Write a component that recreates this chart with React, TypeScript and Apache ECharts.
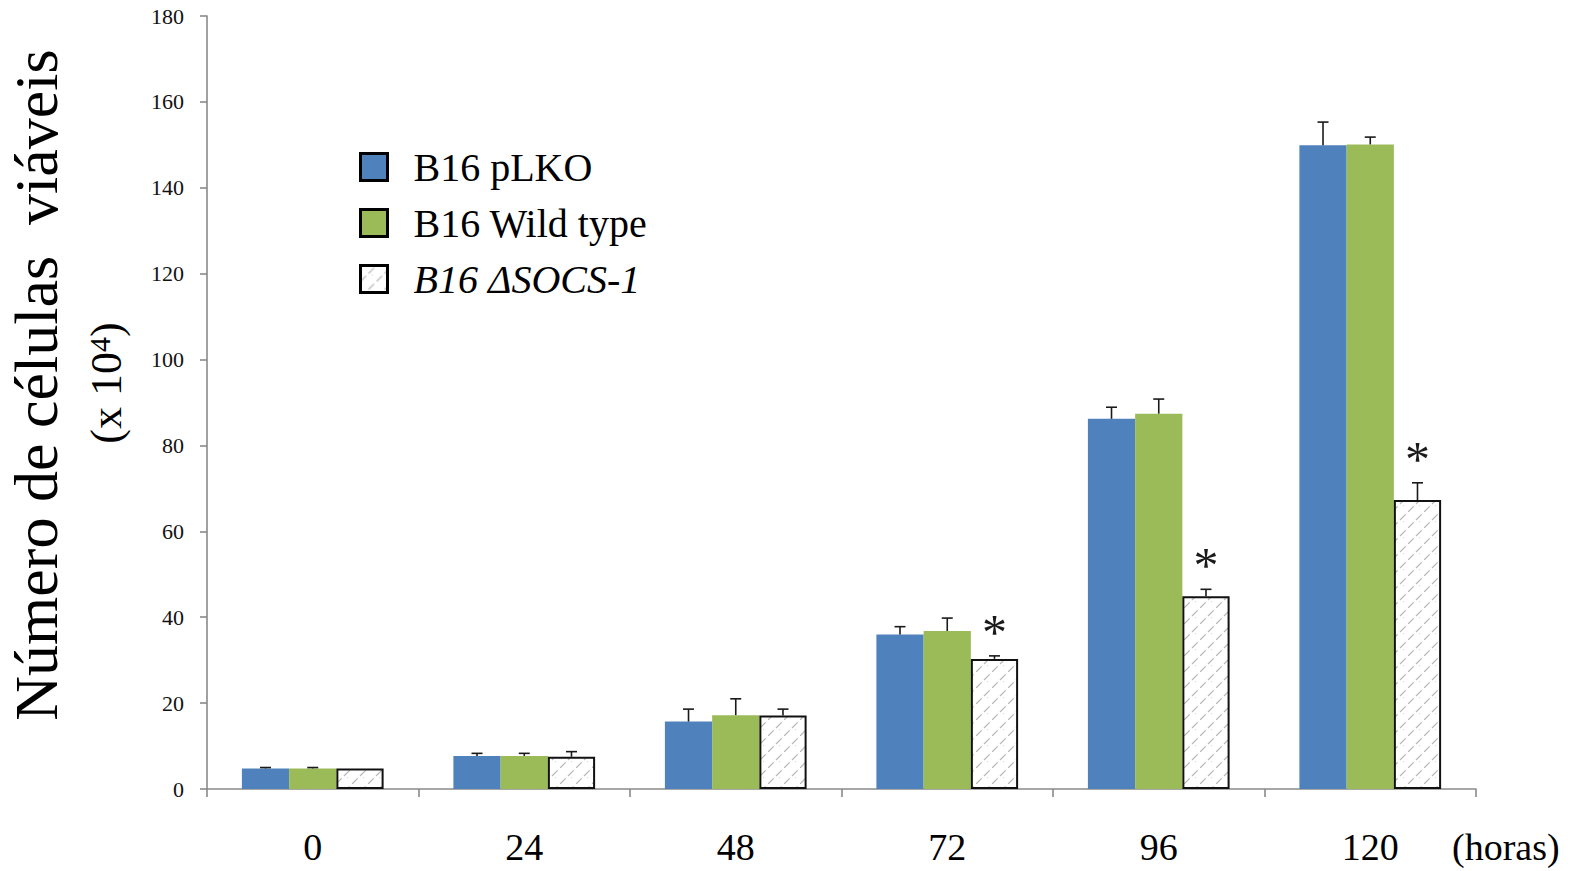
import React, { useEffect, useRef } from 'react';
import * as echarts from 'echarts';

// Time points (hours) on the category axis
const hours = ['0', '24', '48', '72', '96', '120'];

// Series names
const nameLKO = 'B16 pLKO';
const nameWT = 'B16 Wild type';
const nameSOCS = 'B16 \u0394SOCS-1';

// Viable cell counts (x 10^4) and their standard errors
const lkoValues = [4.8, 7.7, 15.7, 36.0, 86.2, 149.9];
const lkoErrors = [0.2, 0.6, 2.9, 1.8, 2.7, 5.4];
const wtValues = [4.8, 7.7, 17.2, 36.8, 87.4, 150.1];
const wtErrors = [0.2, 0.6, 3.8, 3.0, 3.4, 1.7];
const socsValues = [4.8, 7.5, 17.1, 30.3, 44.9, 67.3];
const socsErrors = [0, 1.2, 1.5, 0.7, 1.6, 4.0];
// Significance marks above the ΔSOCS-1 bars
const socsMarks = ['', '', '', '*', '*', '*'];

// Y axis ticks
const yMin = 0;
const yMax = 180;
const yStep = 20;

const SERIF = "'Liberation Serif', 'Times New Roman', serif";
const CATEGORY_GAP = 0.33;

function makeHatch(): HTMLCanvasElement {
  const size = 16;
  const c = document.createElement('canvas');
  c.width = size;
  c.height = size;
  const ctx = c.getContext('2d')!;
  ctx.fillStyle = '#ffffff';
  ctx.fillRect(0, 0, size, size);
  ctx.strokeStyle = '#b8b8b8';
  ctx.lineWidth = 1.3;
  ctx.setLineDash([8, 3.31]);
  ctx.beginPath();
  ctx.moveTo(0, size);
  ctx.lineTo(size, 0);
  ctx.stroke();
  ctx.setLineDash([]);
  ctx.fillStyle = '#d0d0d0';
  ctx.fillRect(11, 9, 1, 1);
  return c;
}

function errorBars(values: number[], errors: number[], slot: number, marks?: string[]) {
  return {
    type: 'custom',
    z: 5,
    silent: true,
    data: values.map((v, i) => [i, v, errors[i]]),
    encode: { x: 0, y: 1 },
    renderItem: (params: any, api: any) => {
      const idx = api.value(0);
      const v = api.value(1);
      const e = api.value(2);
      const band = api.size([1, 0])[0];
      const barW = (band * (1 - CATEGORY_GAP)) / 3;
      const base = api.coord([idx, v]);
      const x = base[0] + (slot - 1) * barW;
      const top = api.coord([idx, v + e])[1];
      const children: any[] = [];
      if (e > 0) {
        children.push({
          type: 'line',
          shape: { x1: x, y1: base[1], x2: x, y2: top },
          style: { stroke: '#1a1a1a', lineWidth: 1.6 },
        });
        children.push({
          type: 'line',
          shape: { x1: x - 5.5, y1: top, x2: x + 5.5, y2: top },
          style: { stroke: '#1a1a1a', lineWidth: 1.6 },
        });
      }
      const mark = marks ? marks[params.dataIndex] : '';
      if (mark) {
        children.push({
          type: 'text',
          style: {
            text: mark,
            x,
            y: top - 24,
            align: 'center',
            verticalAlign: 'middle',
            fontFamily: SERIF,
            fontSize: 50,
            fill: '#1a1a1a',
          },
        });
      }
      return { type: 'group', children };
    },
  };
}

export default function App() {
  const ref = useRef<HTMLDivElement>(null);

  useEffect(() => {
    document.body.style.margin = '0';
    const chart = echarts.init(ref.current!, null, { renderer: 'svg' });
    const hatch = { image: makeHatch(), repeat: 'repeat' };
    const legendText = { fontFamily: SERIF, fontSize: 40, color: '#000', padding: [0, 0, 0, 21] };

    chart.setOption({
      animation: false,
      backgroundColor: '#ffffff',
      grid: { left: 207, right: 106, top: 16, bottom: 82, containLabel: false },
      legend: {
        orient: 'vertical',
        left: 354,
        top: 142,
        icon: 'rect',
        itemWidth: 27,
        itemHeight: 27,
        itemGap: 16,
        itemStyle: { borderColor: '#000', borderWidth: 3 },
        selectedMode: false,
        data: [nameLKO, nameWT, nameSOCS],
        formatter: (name: string) => (name === nameSOCS ? `{it|${name}}` : `{n|${name}}`),
        textStyle: {
          fontFamily: SERIF,
          fontSize: 40,
          color: '#000',
          rich: {
            n: legendText,
            it: { ...legendText, fontStyle: 'italic' },
          },
        },
      },
      xAxis: {
        type: 'category',
        data: hours,
        axisLine: { lineStyle: { color: '#8a8a8a', width: 1.6 } },
        axisTick: { show: true, length: 8, lineStyle: { color: '#8a8a8a', width: 1.6 } },
        axisLabel: { fontFamily: SERIF, fontSize: 38, color: '#000', margin: 39 },
        splitLine: { show: false },
      },
      yAxis: {
        type: 'value',
        min: yMin,
        max: yMax,
        interval: yStep,
        axisLine: { show: true, lineStyle: { color: '#8a8a8a', width: 1.6 } },
        axisTick: { show: true, length: 7, lineStyle: { color: '#8a8a8a', width: 1.6 } },
        axisLabel: { fontFamily: SERIF, fontSize: 22, color: '#111', margin: 23 },
        splitLine: { show: false },
      },
      graphic: [
        {
          type: 'text',
          x: 36,
          y: 385,
          rotation: Math.PI / 2,
          style: {
            text: 'Número de células  viáveis',
            fontFamily: SERIF,
            fontSize: 62,
            fill: '#000',
            align: 'center',
            verticalAlign: 'middle',
          },
        },
        {
          type: 'text',
          x: 106,
          y: 383,
          rotation: Math.PI / 2,
          style: {
            text: '{a|(x 10}{s|4}{a|)}',
            fontFamily: SERIF,
            fontSize: 44,
            fill: '#000',
            align: 'center',
            verticalAlign: 'middle',
            rich: {
              a: { fontFamily: SERIF, fontSize: 44, fill: '#000' },
              s: { fontFamily: SERIF, fontSize: 30, fill: '#000', verticalAlign: 'top', padding: [0, 0, 9, 0] },
            },
          },
        },
        {
          type: 'text',
          x: 1452,
          y: 847,
          style: {
            text: '(horas)',
            fontFamily: SERIF,
            fontSize: 38,
            fill: '#000',
            align: 'left',
            verticalAlign: 'middle',
          },
        },
      ],
      series: [
        {
          name: nameLKO,
          type: 'bar',
          data: lkoValues,
          barGap: '0%',
          barCategoryGap: `${CATEGORY_GAP * 100}%`,
          itemStyle: { color: '#4F81BD' },
        },
        {
          name: nameWT,
          type: 'bar',
          data: wtValues,
          barGap: '0%',
          barCategoryGap: `${CATEGORY_GAP * 100}%`,
          itemStyle: { color: '#9BBB59' },
        },
        {
          name: nameSOCS,
          type: 'bar',
          data: socsValues,
          barGap: '0%',
          barCategoryGap: `${CATEGORY_GAP * 100}%`,
          itemStyle: { color: hatch, borderColor: '#111', borderWidth: 2 },
        },
        errorBars(lkoValues, lkoErrors, 0),
        errorBars(wtValues, wtErrors, 1),
        errorBars(socsValues, socsErrors, 2, socsMarks),
      ],
    });

    return () => chart.dispose();
  }, []);

  return <div ref={ref} style={{ width: 1582, height: 871 }} />;
}
